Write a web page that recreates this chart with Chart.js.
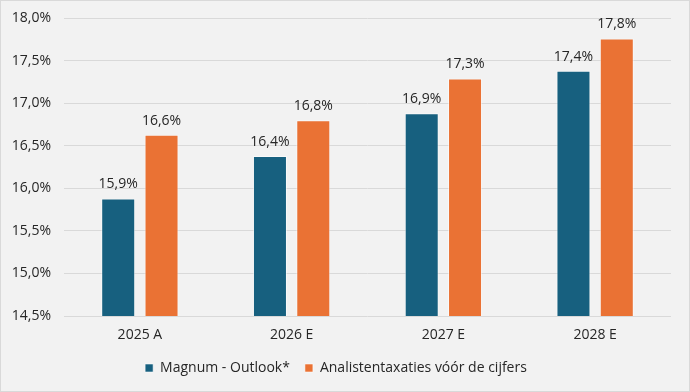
<!DOCTYPE html>
<html>
<head>
<meta charset="utf-8">
<script src="https://cdn.jsdelivr.net/npm/chart.js@4/dist/chart.umd.min.js"></script>
<style>
    html, body { margin: 0; padding: 0; background: #F2F2F2; }
    #wrap {
        width: 690px; height: 392px; box-sizing: border-box;
        border: 1px solid #D9D9D9; background: #F2F2F2;
    }
    #chart { display: block; }
</style>
</head>
<body>
<div id="wrap"><canvas id="chart" width="688" height="390"></canvas></div>
<script>
const categories = ['2025 A', '2026 E', '2027 E', '2028 E'];
const magnumValues = [15.88, 16.38, 16.88, 17.38];
const analistValues = [16.63, 16.80, 17.29, 17.76];
const seriesNames = ['Magnum - Outlook*', 'Analistentaxaties vóór de cijfers'];
const yTicks = [14.5, 15.0, 15.5, 16.0, 16.5, 17.0, 17.5, 18.0];

const FONT = '"Open Sans", "Liberation Sans", sans-serif';
const TEXT_COLOR = '#262626';

function pct(v) {
    return v.toFixed(1).replace('.', ',') + '%';
}

//? labels above bars
const barLabelPlugin = {
    id: 'barLabels',
    afterDatasetsDraw: (chart) => {
        const { ctx } = chart;
        ctx.save();
        ctx.font = '14px ' + FONT;
        ctx.fillStyle = TEXT_COLOR;
        ctx.textAlign = 'center';
        ctx.textBaseline = 'bottom';
        chart.data.datasets.forEach((ds, i) => {
            chart.getDatasetMeta(i).data.forEach((bar, j) => {
                ctx.fillText(pct(ds.data[j]), bar.x, bar.y - 7);
            });
        });
        ctx.restore();
    }
};

const chart = new Chart('chart', {
    type: 'bar',
    data: {
        labels: categories,
        datasets: [{
            label: seriesNames[0],
            data: magnumValues,
            backgroundColor: '#17607F',
            borderColor: 'rgba(255,255,255,0.55)',
            borderWidth: 1
        }, {
            label: seriesNames[1],
            data: analistValues,
            backgroundColor: '#EA7234',
            borderColor: 'rgba(255,255,255,0.55)',
            borderWidth: 1
        }]
    },
    options: {
        responsive: false,
        animation: false,
        categoryPercentage: 0.571,
        barPercentage: 0.785,
        layout: { padding: { top: 17, left: 0, right: 18, bottom: 6 } },
        scales: {
            x: {
                grid: { display: false, drawTicks: false },
                border: { display: false },
                ticks: { color: TEXT_COLOR, font: { family: FONT, size: 14 }, padding: 11 },
                afterFit: (scale) => { scale.height = 30; }
            },
            y: {
                min: 14.5,
                max: 18.0,
                afterBuildTicks: (scale) => { scale.ticks = yTicks.map(v => ({ value: v })); },
                grid: { color: '#D9D9D9', lineWidth: 1, drawTicks: false },
                border: { display: false },
                ticks: {
                    color: TEXT_COLOR,
                    font: { family: FONT, size: 14 },
                    padding: 13,
                    callback: (v) => pct(v)
                },
                afterFit: (scale) => {
                    scale.width = 63;
                    scale.paddingTop = 0;
                    scale.paddingBottom = 0;
                }
            }
        },
        plugins: {
            legend: {
                position: 'bottom',
                labels: {
                    color: TEXT_COLOR,
                    font: { family: FONT, size: 14 },
                    boxWidth: 8,
                    boxHeight: 8,
                    padding: 15,
                    useBorderRadius: false
                }
            },
            tooltip: { enabled: false }
        }
    },
    plugins: [barLabelPlugin]
});
</script>
</body>
</html>
